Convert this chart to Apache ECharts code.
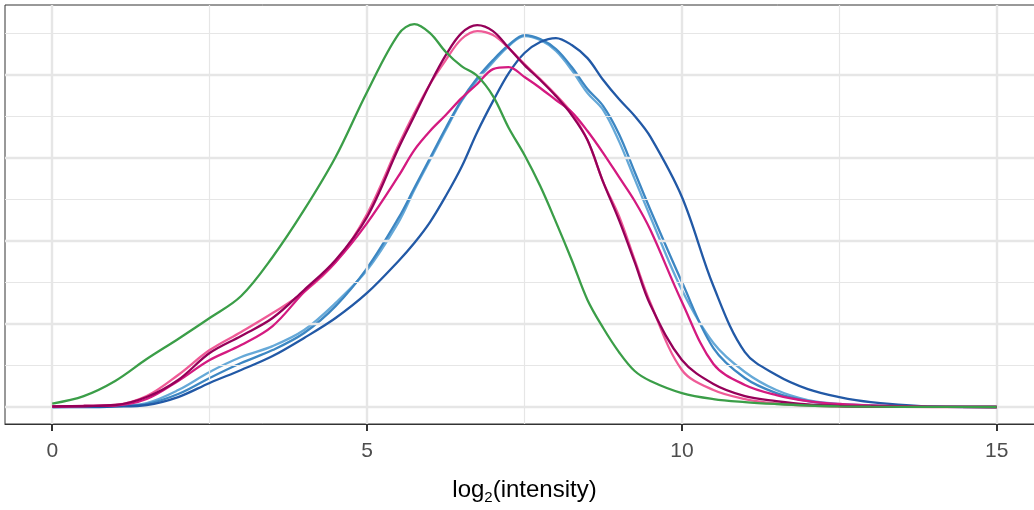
<!DOCTYPE html>
<html>
<head>
<meta charset="utf-8">
<script src="https://cdn.jsdelivr.net/npm/echarts@6/dist/echarts.min.js"></script>
<style>
html,body{margin:0;padding:0;background:#fff;}
#chart{width:1034px;height:510px;}
</style>
</head>
<body>
<div id="chart"></div>
<script>
// x positions (log2 intensity) at which densities were read
var xs = [0,0.5,1,1.5,2,2.5,3,3.5,4,4.5,5,5.5,5.75,6,6.25,6.5,6.75,7,7.25,7.5,7.75,8,8.25,8.5,8.75,9,9.25,9.5,10,10.5,11,11.5,12,12.5,13,14,15];

var lightBlue = [0.0000,0.0003,0.0006,0.0024,0.0102,0.0211,0.0301,0.0367,0.0464,0.0627,0.0825,0.1114,0.1307,0.1488,0.1669,0.1843,0.1970,0.2078,0.2175,0.2235,0.2211,0.2145,0.2030,0.1892,0.1789,0.1602,0.1373,0.1145,0.0705,0.0386,0.0211,0.0102,0.0042,0.0018,0.0009,0.0001,0.0000];
var mediumBlue = [0.0000,0.0003,0.0003,0.0018,0.0078,0.0175,0.0265,0.0343,0.0446,0.0608,0.0837,0.1139,0.1319,0.1500,0.1681,0.1849,0.1982,0.2090,0.2181,0.2241,0.2217,0.2157,0.2048,0.1916,0.1813,0.1645,0.1416,0.1187,0.0753,0.0355,0.0175,0.0084,0.0036,0.0015,0.0006,0.0001,0.0000];
var darkBlue = [0.0000,0.0000,0.0003,0.0012,0.0060,0.0145,0.0223,0.0307,0.0416,0.0536,0.0687,0.0880,0.0988,0.1114,0.1271,0.1446,0.1657,0.1843,0.2012,0.2133,0.2199,0.2223,0.2181,0.2102,0.1970,0.1855,0.1753,0.1627,0.1265,0.0729,0.0331,0.0193,0.0108,0.0060,0.0030,0.0003,0.0000];
var pink = [0.0003,0.0006,0.0012,0.0066,0.0193,0.0343,0.0452,0.0566,0.0693,0.0873,0.1163,0.1578,0.1771,0.1946,0.2090,0.2217,0.2265,0.2241,0.2163,0.2066,0.1976,0.1880,0.1771,0.1608,0.1355,0.1151,0.0886,0.0627,0.0223,0.0102,0.0048,0.0021,0.0009,0.0003,0.0001,0.0000,0.0000];
var magenta = [0.0003,0.0006,0.0009,0.0048,0.0157,0.0283,0.0373,0.0488,0.0693,0.0873,0.1108,0.1392,0.1548,0.1663,0.1759,0.1861,0.1946,0.2036,0.2048,0.1988,0.1922,0.1849,0.1777,0.1663,0.1530,0.1386,0.1241,0.1066,0.0633,0.0259,0.0133,0.0072,0.0036,0.0018,0.0009,0.0001,0.0000];
var darkMagenta = [0.0003,0.0006,0.0012,0.0060,0.0163,0.0325,0.0428,0.0536,0.0705,0.0886,0.1145,0.1560,0.1753,0.1946,0.2120,0.2253,0.2301,0.2265,0.2163,0.2060,0.1970,0.1873,0.1759,0.1608,0.1355,0.1127,0.0873,0.0614,0.0283,0.0139,0.0066,0.0036,0.0015,0.0006,0.0003,0.0001,0.0000];
var green = [0.0021,0.0066,0.0157,0.0289,0.0410,0.0536,0.0669,0.0904,0.1187,0.1506,0.1898,0.2247,0.2307,0.2253,0.2139,0.2054,0.1994,0.1873,0.1681,0.1518,0.1331,0.1114,0.0886,0.0645,0.0476,0.0331,0.0217,0.0157,0.0084,0.0048,0.0030,0.0018,0.0009,0.0004,0.0002,0.0001,0.0000];

var xTicks = [0,5,10,15];
var xMinor = [2.5,7.5,12.5];
var yMajor = [0,0.05,0.1,0.15,0.2];
var yMinor = [0.025,0.075,0.125,0.175,0.225];

var seriesDefs = [
  {name:'lightBlue', data:lightBlue, color:'#66a9d8'},
  {name:'mediumBlue', data:mediumBlue, color:'#3d87c3'},
  {name:'darkBlue', data:darkBlue, color:'#2259a6'},
  {name:'pink', data:pink, color:'#ef5b97'},
  {name:'magenta', data:magenta, color:'#d41a80'},
  {name:'darkMagenta', data:darkMagenta, color:'#950059'},
  {name:'green', data:green, color:'#3b9e48'}
];

var FONT = 'Liberation Sans, Arial, sans-serif';
var gridColor = '#e6e6e6';

var markData = [];
xMinor.forEach(function(v){ markData.push({xAxis:v, lineStyle:{width:1.2, color:gridColor}}); });
yMinor.forEach(function(v){ markData.push({yAxis:v, lineStyle:{width:1.2, color:gridColor}}); });
xTicks.forEach(function(v){ markData.push({xAxis:v, lineStyle:{width:2.4, color:gridColor}}); });
yMajor.forEach(function(v){ markData.push({yAxis:v, lineStyle:{width:2.4, color:gridColor}}); });

var series = [{
  type:'line', name:'grid', data:[[0,0]], showSymbol:false, silent:true,
  lineStyle:{opacity:0}, z:1,
  markLine:{silent:true, precision:6, symbol:['none','none'], label:{show:false},
    lineStyle:{color:gridColor, type:'solid'}, emphasis:{disabled:true},
    animation:false, data:markData}
}];
seriesDefs.forEach(function(s, i){
  series.push({
    type:'line', name:s.name,
    data: xs.map(function(x, j){ return [x, s.data[j]]; }),
    smooth:0.35, showSymbol:false, symbol:'none',
    lineStyle:{color:s.color, width:2.3},
    itemStyle:{color:s.color},
    z:3+i, animation:false
  });
});

var chart = echarts.init(document.getElementById('chart'), null, {renderer:'canvas'});
chart.setOption({
  animation:false,
  backgroundColor:'#ffffff',
  grid:{left:5, top:5, right:-10, bottom:86, outerBoundsMode:'none', containLabel:false,
    show:true, borderColor:'#333333', borderWidth:1, backgroundColor:'transparent'},
  xAxis:{
    type:'value', min:-0.75, max:15.75,
    axisLine:{show:true, onZero:false, lineStyle:{color:'#333333', width:1.2}},
    axisTick:{show:true, customValues:xTicks, length:7, lineStyle:{color:'#333333', width:2}},
    axisLabel:{show:true, customValues:xTicks, fontSize:21, color:'#4d4d4d', fontFamily:FONT, margin:17},
    splitLine:{show:false},
    name:'{a|log}{sub|2}{a|(intensity)}',
    nameLocation:'middle', nameGap:51,
    nameTextStyle:{fontFamily:FONT, color:'#000', fontSize:24,
      rich:{
        a:{fontSize:24, fontFamily:FONT, color:'#000', lineHeight:30, verticalAlign:'middle'},
        sub:{fontSize:15, fontFamily:FONT, color:'#000', lineHeight:30, verticalAlign:'bottom'}
      }}
  },
  yAxis:{
    type:'value', min:-0.01024, max:0.2422,
    axisLine:{show:false}, axisTick:{show:false}, axisLabel:{show:false}, splitLine:{show:false}
  },
  series:series
});
</script>
</body>
</html>
